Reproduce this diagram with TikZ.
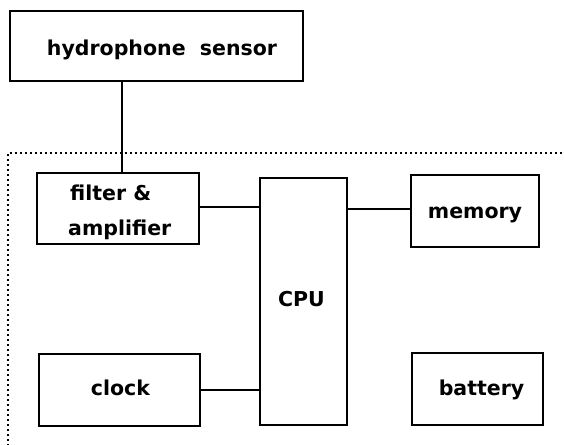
\documentclass[tikz,border=0pt]{standalone}
\usepackage{fontspec}
\setmainfont{DejaVu Sans}
\begin{document}
\begin{tikzpicture}[x=1pt,y=-1pt,
  blk/.style={draw=black, line width=1.5pt, rectangle, inner sep=0pt},
  thick blk/.style={blk, line width=2.2pt},
  lbl/.style={font=\fontsize{20.5}{24}\selectfont\bfseries, inner sep=0pt, anchor=base, text=black},
  wire/.style={draw=black, line width=1.6pt},
  encl/.style={draw=black, line width=2.4pt, dash pattern=on 2.4pt off 2.6pt}]
\useasboundingbox (0,0) rectangle (564,444);
\clip (0,0) rectangle (564,444);
% enclosure
\coordinate (eBL) at (8,446);
\coordinate (eTL) at (8,153);
\coordinate (eTR) at (566,153);
\draw[encl] (eBL) -- (eTL) -- (eTR);
% boxes
\node[thick blk, minimum width=293pt, minimum height=70pt] (hydro) at (156.5,46) {};
\node[blk, minimum width=162pt, minimum height=71pt] (filter) at (118,208.5) {};
\node[blk, minimum width=87pt, minimum height=247pt] (cpu) at (303.5,301.5) {};
\node[blk, minimum width=128pt, minimum height=72pt] (memory) at (475,211) {};
\node[blk, minimum width=131pt, minimum height=72pt] (battery) at (477.5,389) {};
\node[blk, minimum width=161pt, minimum height=72pt] (clock) at (119.5,390) {};
% labels
\node[lbl] (thydro) at (162,56) {hydrophone\ \ sensor};
\node[lbl, anchor=base west] (tfilter) at (70,200) {filter \&};
\node[lbl, anchor=base west] (tampl) at (68,235) {amplifier};
\node[lbl] (tcpu) at (301.5,306) {CPU};
\node[lbl] (tmem) at (475,218) {memory};
\node[lbl] (tbat) at (481.5,395) {battery};
\node[lbl] (tclk) at (120.5,395) {clock};
% connectors
\draw[wire] ([xshift=85.5pt]filter.north west) -- ([xshift=85.5pt]filter.north west |- hydro.south);
\draw[wire] ([yshift=1.5pt]filter.east) -- ([yshift=1.5pt]filter.east -| cpu.west);
\draw[wire] ([yshift=2pt]memory.west) -- ([yshift=2pt]memory.west -| cpu.east);
\draw[wire] (clock.east) -- (clock.east -| cpu.west);
\end{tikzpicture}
\end{document}
